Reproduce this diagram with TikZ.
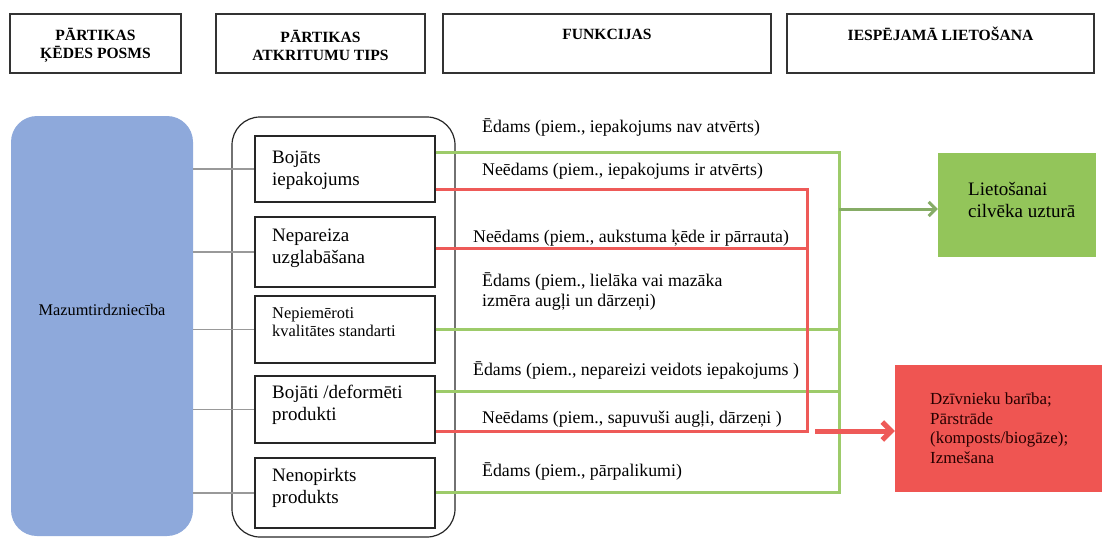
\documentclass[tikz,border=0pt]{standalone}
\usepackage{fontspec}
\setmainfont{Liberation Serif}
\usetikzlibrary{arrows.meta}
\definecolor{bluefill}{HTML}{8EA9DB}
\definecolor{gline}{HTML}{9DCB6A}
\definecolor{rline}{HTML}{EE5A58}
\definecolor{gboxc}{HTML}{93C55A}
\definecolor{rboxc}{HTML}{EF5552}
\definecolor{garrow}{HTML}{86AC66}
\tikzset{
  hdr/.style={draw=black!80, line width=1.3pt, minimum height=59pt, inner sep=0pt},
  hdrtxt/.style={font=\fontsize{15.6}{18}\selectfont\bfseries, align=center, inner sep=0pt},
  inbox/.style={draw=black!85, line width=1.2pt, minimum width=180pt, inner sep=0pt},
  intxt/.style={font=\fontsize{19}{22}\selectfont, align=left, anchor=west, inner sep=0pt},
  lbl/.style={font=\fontsize{17.8}{20}\selectfont, align=left, anchor=west, inner sep=0pt},
  grayc/.style={draw=black!40, line width=1.2pt},
  gl/.style={draw=gline, line width=3pt},
  rl/.style={draw=rline, line width=3pt},
}
\begin{document}
\begin{tikzpicture}[x=1pt,y=-1pt]
\useasboundingbox (0,0) rectangle (1102,538);
% headers
\node[hdr, minimum width=171pt] (h1) at (95.5,43.5) {};
\node[hdrtxt] (h1t) at (95.5,45) {PĀRTIKAS\\ĶĒDES POSMS};
\node[hdr, minimum width=209pt] (h2) at (320.5,43.5) {};
\node[hdrtxt] (h2t) at (320.5,45) {PĀRTIKAS\\ATKRITUMU TIPS};
\node[hdr, minimum width=328pt] (h3) at (607,43.5) {};
\node[hdrtxt] (h3t) at (607,34) {FUNKCIJAS};
\node[hdr, minimum width=307pt] (h4) at (940.5,43.5) {};
\node[hdrtxt] (h4t) at (940.5,34) {IESPĒJAMĀ LIETOŠANA};
% blue chain
\node[fill=bluefill, rounded corners=26pt, minimum width=182pt, minimum height=420pt, inner sep=0pt] (blue) at (102,326) {};
\node[inner sep=0pt, font=\fontsize{16.3}{18}\selectfont] (bluet) at (102,310) {Mazumtirdzniecība};
% group frame
\node[draw=black!85, line width=1.2pt, rounded corners=28pt, minimum width=223pt, minimum height=420pt, inner sep=0pt] (grp) at (343.5,327) {};
% inner boxes
\node[inbox, minimum height=66pt] (A) at (345,169) {};
\node[inbox, minimum height=70pt] (B) at (345,252) {};
\node[inbox, minimum height=67pt] (C) at (345,329.5) {};
\node[inbox, minimum height=67pt] (D) at (345,409.5) {};
\node[inbox, minimum height=70pt] (E) at (345,493) {};
\node[intxt] (At) at (272,170) {Bojāts\\iepakojums};
\node[intxt] (Bt) at (272,248) {Nepareiza\\uzglabāšana};
\node[intxt, font=\fontsize{16.4}{18}\selectfont] (Ct) at (272,322) {Nepiemēroti\\kvalitātes standarti};
\node[intxt] (Dt) at (272,405) {Bojāti /deformēti\\produkti};
\node[intxt] (Et) at (272,488) {Nenopirkts\\produkts};
% gray connectors
\foreach \n in {A,B,C,D,E} \draw[grayc] (blue.east |- \n) -- (\n.west);
% target boxes
\node[fill=gboxc, minimum width=158pt, minimum height=104pt, inner sep=0pt] (G) at (1017,205) {};
\node[intxt] (Gt) at (968,200) {Lietošanai\\cilvēka uzturā};
\node[fill=rboxc, minimum width=207pt, minimum height=127pt, inner sep=0pt] (R) at (998.5,428.5) {};
\node[intxt, font=\fontsize{16.9}{19.5}\selectfont, text=black!85!red] (Rt) at (930,428) {Dzīvnieku barība;\\Pārstrāde\\(komposts/biogāze);\\Izmešana};
% coordinates
\coordinate (gA) at (839,152);
\coordinate (gC) at (839,329);
\coordinate (gD) at (839,391);
\coordinate (gE) at (839,492);
\coordinate (gArr) at (839,209);
\coordinate (rA) at (807,189);
\coordinate (rB) at (807,248);
\coordinate (rD) at (807,431);
\coordinate (rArr) at (815,431);
% green lines
\draw[gl] (A.east |- gA) -- (gA) -- (gE) -- (E.east |- gE);
\draw[gl] (C.east |- gC) -- (gC);
\draw[gl] (D.east |- gD) -- (gD);
% red lines
\draw[rl] (A.east |- rA) -- (rA) -- (rD) -- (D.east |- rD);
\draw[rl] (B.east |- rB) -- (rB);
% arrows
\draw[draw=garrow, line width=3pt, -{Straight Barb[length=7pt,width=14pt]}] (gArr) -- (gArr -| G.west);
\draw[draw=rline, line width=5pt, -{Straight Barb[length=9pt,width=18pt]}] (rArr) -- (rArr -| R.west);
% labels
\node[lbl] (l1) at (482,128) {Ēdams (piem., iepakojums nav atvērts)};
\node[lbl] (l2) at (482,171) {Neēdams (piem., iepakojums ir atvērts)};
\node[lbl] (l3) at (473,238) {Neēdams (piem., aukstuma ķēde ir pārrauta)};
\node[lbl] (l4) at (482,292) {Ēdams (piem., lielāka vai mazāka\\izmēra augļi un dārzeņi)};
\node[lbl] (l5) at (473,371) {Ēdams (piem., nepareizi veidots iepakojums )};
\node[lbl] (l6) at (482,419) {Neēdams (piem., sapuvuši augļi, dārzeņi )};
\node[lbl] (l7) at (482,472) {Ēdams (piem., pārpalikumi)};
\end{tikzpicture}
\end{document}
